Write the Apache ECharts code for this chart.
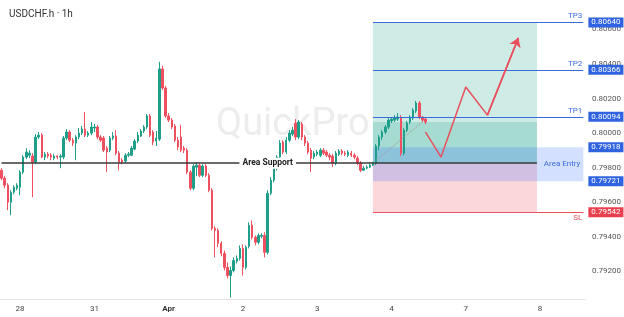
<!DOCTYPE html>
<html><head><meta charset="utf-8">
<script src="https://cdn.jsdelivr.net/npm/echarts@6/dist/echarts.min.js"></script>
<style>html,body{margin:0;padding:0;background:#fff}#c{width:624px;height:317px}</style>
</head><body><div id="c"></div>
<script>
// ---- time slots (hourly) ----
const dayNames = ['27', '28', '31', 'Apr', '2', '3', '4', '7', '8'];
const dayFirstHour = [18, 0, 0, 0, 0, 0, 0, 0, 0];
const dayHourCount = [6, 24, 24, 24, 24, 24, 24, 24, 15];

// ---- candles: [open, close, low, high] ----
const ohlc = [
[0.79785,0.79739,0.79727,0.79797],[0.79739,0.79698,0.79681,0.79751],[0.79698,0.79600,0.79554,0.79710],[0.79600,0.79658,0.79524,0.79669],
[0.79658,0.79687,0.79646,0.79698],[0.79681,0.79698,0.79669,0.79710],[0.79687,0.79774,0.79640,0.79785],[0.79774,0.79861,0.79762,0.79872],
[0.79861,0.79890,0.79849,0.79913],[0.79872,0.79884,0.79855,0.79901],[0.79867,0.79832,0.79629,0.79884],[0.79832,0.79977,0.79820,0.79994],
[0.79977,0.79988,0.79965,0.80006],[0.79988,0.79861,0.79855,0.80000],[0.79861,0.79878,0.79843,0.79890],[0.79878,0.79867,0.79855,0.79890],
[0.79872,0.79861,0.79843,0.79884],[0.79855,0.79867,0.79843,0.79878],[0.79867,0.79861,0.79849,0.79872],[0.79861,0.79867,0.79797,0.79878],
[0.79861,0.79971,0.79849,0.79983],[0.79971,0.80006,0.79959,0.80023],[0.80006,0.79959,0.79948,0.80017],[0.79959,0.79942,0.79925,0.79971],
[0.79942,0.79977,0.79843,0.79988],[0.79977,0.80000,0.79965,0.80029],[0.80000,0.80023,0.79988,0.80041],[0.80023,0.79988,0.79977,0.80122],
[0.79988,0.80000,0.79977,0.80012],[0.80000,0.80035,0.79988,0.80064],[0.80029,0.80035,0.80006,0.80052],[0.80035,0.79977,0.79965,0.80046],
[0.79977,0.79959,0.79948,0.79988],[0.79971,0.79901,0.79890,0.79983],[0.79913,0.79890,0.79774,0.79925],[0.79901,0.79971,0.79890,0.79983],
[0.79971,0.79983,0.79959,0.80006],[0.79983,0.79884,0.79872,0.80017],[0.79884,0.79832,0.79785,0.79896],[0.79843,0.79832,0.79820,0.79855],
[0.79838,0.79872,0.79826,0.79884],[0.79872,0.79878,0.79861,0.79890],[0.79872,0.79913,0.79867,0.79925],[0.79907,0.79954,0.79901,0.79965],
[0.79954,0.79988,0.79942,0.80006],[0.79983,0.80012,0.79977,0.80023],[0.80012,0.80035,0.80000,0.80046],[0.80035,0.80099,0.80023,0.80110],
[0.80099,0.79988,0.79977,0.80110],[0.80006,0.79948,0.79930,0.80017],[0.79954,0.79971,0.79925,0.80012],[0.79965,0.80371,0.79954,0.80412],
[0.80371,0.80261,0.80249,0.80389],[0.80261,0.80099,0.80087,0.80273],[0.80099,0.80075,0.80064,0.80116],[0.80075,0.80035,0.80023,0.80087],
[0.80041,0.79959,0.79948,0.80052],[0.79959,0.79919,0.79901,0.79977],[0.79977,0.79901,0.79890,0.80046],[0.79913,0.79901,0.79884,0.79925],
[0.79901,0.79774,0.79762,0.79913],[0.79774,0.79681,0.79669,0.79785],[0.79681,0.79809,0.79669,0.79820],[0.79803,0.79814,0.79751,0.79832],
[0.79814,0.79756,0.79745,0.79826],[0.79756,0.79809,0.79745,0.79820],[0.79809,0.79756,0.79745,0.79820],[0.79756,0.79669,0.79658,0.79768],
[0.79669,0.79449,0.79437,0.79681],[0.79449,0.79437,0.79281,0.79461],[0.79437,0.79362,0.79339,0.79449],[0.79362,0.79304,0.79287,0.79374],
[0.79304,0.79223,0.79205,0.79321],[0.79223,0.79176,0.79159,0.79252],[0.79176,0.79205,0.79049,0.79229],[0.79205,0.79263,0.79194,0.79281],
[0.79258,0.79275,0.79246,0.79292],[0.79275,0.79333,0.79263,0.79350],[0.79333,0.79223,0.79176,0.79356],[0.79223,0.79339,0.79211,0.79350],
[0.79345,0.79466,0.79333,0.79484],[0.79466,0.79397,0.79385,0.79495],[0.79397,0.79368,0.79350,0.79408],[0.79368,0.79408,0.79356,0.79420],
[0.79403,0.79408,0.79391,0.79420],[0.79408,0.79310,0.79281,0.79426],[0.79310,0.79652,0.79298,0.79669],[0.79652,0.79727,0.79640,0.79745],
[0.79727,0.79797,0.79716,0.79809],[0.79797,0.79861,0.79785,0.79872],[0.79861,0.79942,0.79843,0.79959],[0.79948,0.79890,0.79878,0.79959],
[0.79890,0.79959,0.79878,0.79977],[0.79959,0.80000,0.79948,0.80017],[0.79994,0.80017,0.79983,0.80035],[0.80058,0.79977,0.79959,0.80081],
[0.79977,0.80064,0.79965,0.80075],[0.80052,0.79977,0.79959,0.80064],[0.79977,0.79942,0.79925,0.79988],[0.79942,0.79890,0.79878,0.79954],
[0.79901,0.79855,0.79774,0.79913],[0.79861,0.79884,0.79849,0.79896],[0.79878,0.79890,0.79867,0.79901],[0.79872,0.79901,0.79861,0.79913],
[0.79901,0.79884,0.79872,0.79913],[0.79890,0.79872,0.79861,0.79901],[0.79872,0.79861,0.79843,0.79884],[0.79867,0.79826,0.79803,0.79878],
[0.79826,0.79884,0.79814,0.79896],[0.79878,0.79896,0.79867,0.79907],[0.79896,0.79884,0.79872,0.79907],[0.79884,0.79878,0.79867,0.79896],
[0.79872,0.79890,0.79861,0.79901],[0.79884,0.79872,0.79861,0.79896],[0.79872,0.79861,0.79849,0.79884],[0.79855,0.79826,0.79814,0.79867],
[0.79826,0.79785,0.79774,0.79838],[0.79785,0.79797,0.79780,0.79809],[0.79797,0.79803,0.79791,0.79814],[0.79803,0.79814,0.79797,0.79826],
[0.79814,0.79826,0.79809,0.79832],[0.79826,0.79925,0.79814,0.79936],[0.79925,0.79977,0.79901,0.79988],[0.79977,0.80006,0.79959,0.80017],
[0.80006,0.80035,0.79994,0.80046],[0.80035,0.80075,0.80023,0.80087],[0.80070,0.80081,0.80058,0.80093],[0.80075,0.80087,0.80064,0.80104],
[0.80081,0.80093,0.80070,0.80116],[0.80093,0.79884,0.79867,0.80104],[0.79884,0.80017,0.79872,0.80029],[0.80017,0.80058,0.80006,0.80070],
[0.80064,0.80093,0.80052,0.80104],[0.80087,0.80133,0.80075,0.80145],[0.80128,0.80174,0.80116,0.80186],[0.80174,0.80093,0.80081,0.80186],
[0.80093,0.80075,0.80064,0.80099],[0.80081,0.80064,0.80052,0.80087]
];

// ---- trade levels ----
const levelNames  = ['TP3', 'TP2', 'TP1', 'SL'];
const levelValues = [0.80640, 0.80366, 0.80094, 0.79542];
const entryTop = 0.79918;
const entryBottom = 0.79721;
const supportValue = 0.79826;
const innerZoneTop = 0.80064;
const zoneStartSlot = 120, zoneEndSlot = 173, lastSlot = 188;

// ---- projected path ----
const pathSlots  = [137, 142, 150, 157, 167];
const pathValues = [0.80006, 0.79861, 0.80267, 0.80104, 0.80551];
const trendSlots = [121, 136];
const trendValues = [0.79843, 0.80064];

// ---- build categories ----
const categories = [];
dayNames.forEach((d, k) => {
  for (let h = 0; h < dayHourCount[k]; h++) categories.push(d + '|' + (dayFirstHour[k] + h));
});

const BLUE = '#3a6bdc', RED = '#e9505c', UP = '#1f9e89', DOWN = '#ef5060';

function levelMarkLines() {
  const out = [];
  levelNames.forEach((n, i) => {
    const isSL = n === 'SL';
    const col = isSL ? RED : BLUE;
    out.push([{coord: [zoneStartSlot, levelValues[i]], lineStyle: {color: col, width: 1.2, type: 'solid'},
      label: {show: true, position: isSL ? 'insideEndBottom' : 'insideEndTop', formatter: n, color: col, fontSize: 8, distance: [1, 2]}},
      {coord: [lastSlot, levelValues[i]]}]);
    out.push([{coord: [zoneStartSlot, levelValues[i]], lineStyle: {color: 'transparent', width: 0, type: 'solid'},
      label: {show: true, position: 'end', distance: 5, formatter: levelValues[i].toFixed(5), color: '#fff', fontSize: 8,
        backgroundColor: isSL ? '#e8404f' : '#2f63e0', padding: [1, 3, 1, 3]}},
      {coord: [lastSlot, levelValues[i]]}]);
  });
  [entryTop, entryBottom].forEach(v => {
    out.push([{coord: [zoneStartSlot, v], lineStyle: {color: 'transparent', width: 0, type: 'solid'},
      label: {show: true, position: 'end', distance: 5, formatter: v.toFixed(5), color: '#fff', fontSize: 8,
        backgroundColor: '#2f63e0', padding: [1, 3, 1, 3]}},
      {coord: [lastSlot, v]}]);
  });
  return out;
}

const chart = echarts.init(document.getElementById('c'), null, {renderer: 'canvas'});
chart.setOption({
  animation: false,
  backgroundColor: '#fff',
  textStyle: {fontFamily: 'Roboto, "Noto Sans", sans-serif'},
  title: {text: 'USDCHF.h · 1h', left: 4, top: 4, textStyle: {fontSize: 10, fontWeight: 'normal', color: '#333'}},
  graphic: [{type: 'text', left: 216, top: 106, z: 0, silent: true,
    style: {text: 'QuickPro', fontSize: 38, fontFamily: 'Roboto', fill: '#ededed'}}],
  grid: {left: 0, right: 39, top: 0, bottom: 18},
  xAxis: {
    type: 'category', data: categories, boundaryGap: true,
    axisLine: {show: true, lineStyle: {color: '#e3e3e3'}},
    axisTick: {show: false},
    axisLabel: {
      interval: (idx, val) => val.split('|')[1] === '0',
      formatter: val => { const d = val.split('|')[0]; return d === 'Apr' ? '{b|Apr}' : d; },
      rich: {b: {fontWeight: 'bold', fontSize: 8, color: '#333'}},
      fontSize: 8, color: '#444', margin: 6
    },
    splitLine: {show: false}
  },
  yAxis: {
    type: 'value', position: 'right', scale: true, min: 0.7904, max: 0.8077, splitNumber: 8,
    axisLine: {show: false}, axisTick: {show: false}, splitLine: {show: false},
    axisLabel: {showMinLabel: false, showMaxLabel: false, formatter: v => v.toFixed(5), fontSize: 8, color: '#555', margin: 7}
  },
  series: [
    {
      name: 'zones', type: 'line', data: [], z: 1, silent: true,
      markArea: {silent: true, data: [
        [{xAxis: zoneStartSlot, yAxis: levelValues[0], itemStyle: {color: 'rgba(8,153,129,0.2)'}}, {xAxis: zoneEndSlot, yAxis: supportValue}],
        [{xAxis: zoneStartSlot, yAxis: innerZoneTop, itemStyle: {color: 'rgba(8,153,129,0.2)'}}, {xAxis: zoneEndSlot, yAxis: supportValue}],
        [{xAxis: zoneStartSlot, yAxis: supportValue, itemStyle: {color: 'rgba(242,54,69,0.2)'}}, {xAxis: zoneEndSlot, yAxis: levelValues[3]}],
        [{xAxis: zoneStartSlot, yAxis: entryTop, itemStyle: {color: 'rgba(41,98,255,0.2)'},
          label: {show: true, position: 'insideRight', distance: 3, formatter: 'Area Entry', color: '#3a6bdc', fontSize: 8}},
         {xAxis: lastSlot, yAxis: entryBottom}]
      ]}
    },
    {
      name: 'support', type: 'line', data: [], z: 2, silent: true,
      markLine: {silent: true, symbol: ['none', 'none'], label: {show: false},
        lineStyle: {color: '#3a3a3a', width: 1.5, type: 'solid'},
        data: [[{coord: [0, supportValue]}, {coord: [zoneEndSlot, supportValue]}]]},
      markPoint: {silent: true, symbol: 'rect', symbolSize: 0,
        data: [{coord: [86, supportValue], label: {show: true, position: 'inside', formatter: 'Area Support',
          fontSize: 8.5, fontWeight: 'bold', color: '#222', backgroundColor: '#fff', padding: [1, 3, 1, 3]}}]}
    },
    {
      name: 'USDCHF', type: 'candlestick', data: ohlc, z: 3, barWidth: '62%',
      itemStyle: {color: UP, color0: DOWN, borderColor: UP, borderColor0: DOWN, borderWidth: 1}
    },
    {
      name: 'levels', type: 'line', data: [], z: 4, silent: true,
      markLine: {silent: true, symbol: ['none', 'none'], lineStyle: {type: 'solid'}, data: levelMarkLines()}
    },
    {
      name: 'path', type: 'line', z: 5, silent: true, symbol: 'none',
      data: pathSlots.map((s, i) => [s, pathValues[i]]),
      lineStyle: {color: RED, width: 1.5},
      markLine: {silent: true, label: {show: false}, data: [
        [{coord: [pathSlots[3], pathValues[3]], symbol: 'none', lineStyle: {color: RED, width: 1.5, type: 'solid'}},
         {coord: [pathSlots[4], pathValues[4]], symbol: 'arrow', symbolSize: 9}],
        [{coord: [trendSlots[0], trendValues[0]], symbol: 'none', lineStyle: {color: '#9a9a9a', width: 1, type: 'dotted'}},
         {coord: [trendSlots[1], trendValues[1]], symbol: 'none'}]
      ]}
    }
  ]
});
</script>
</body></html>
